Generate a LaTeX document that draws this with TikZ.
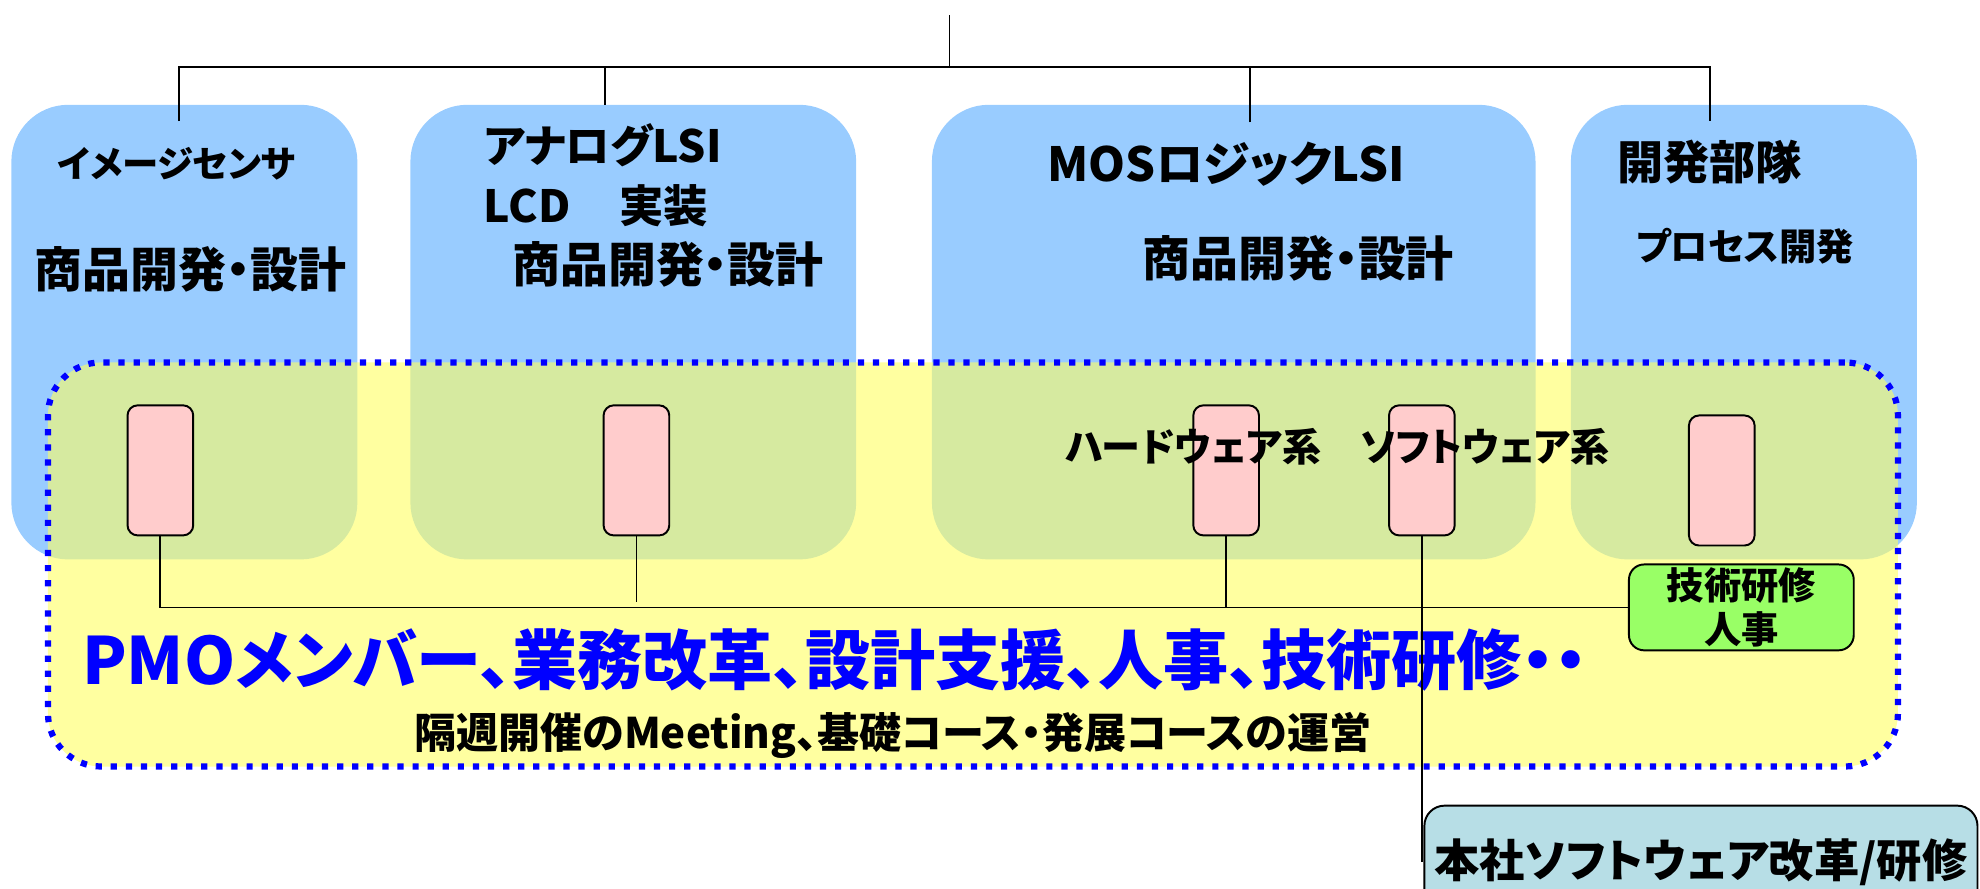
\documentclass[tikz,border=0pt]{standalone}
\usepackage{fontspec}
\newfontfamily\jp{Noto Sans CJK JP}[RawFeature=+palt]
\usetikzlibrary{positioning}
\definecolor{boxblue}{HTML}{99CCFF}
\definecolor{pmoyellow}{RGB}{255,255,97}
\definecolor{mempink}{HTML}{FFCCCC}
\definecolor{kgreen}{HTML}{99FF66}
\definecolor{hcyan}{HTML}{B7DEE6}
\tikzset{bu/.style={fill=boxblue, rounded corners=11.25mm, inner sep=0pt, minimum height=90mm},
  mem/.style={draw, fill=mempink, line width=1.1pt, rounded corners=2mm, minimum width=13mm, minimum height=25.75mm, inner sep=0pt},
  wire/.style={line width=1pt},
  lbl/.style={inner sep=0pt, align=center, font=\jp\bfseries\fontsize{#1}{#1}\selectfont},
  lbl/.default=25}

\begin{document}
\begin{tikzpicture}[x=0.25mm, y=-0.25mm]
  \useasboundingbox (0,0) rectangle (1568,704);
  \node[bu, minimum width=68.5mm]  (img) at (146,263) {};
  \node[bu, minimum width=88.25mm] (ana) at (501.5,263) {};
  \node[bu, minimum width=119.5mm] (mos) at (977,263) {};
  \node[bu, minimum width=68.5mm]  (dev) at (1381,263) {};

  \node[lbl=20.5] (img1) at (140,130) {イメージセンサ};
  \node[lbl=27] (img2) at (151,213) {商品開発・設計};
  \node[lbl, anchor=west] (ana1) at (383,115) {アナログLSI};
  \node[lbl, anchor=west] (ana2) at (383,163) {LCD\hspace{1.1em}実装};
  \node[lbl=27] (ana3) at (529,209) {商品開発・設計};
  \node[lbl=26.5] (mos1) at (971,130) {MOSロジックLSI};
  \node[lbl=27] (mos2) at (1028,205) {商品開発・設計};
  \node[lbl=26] (dev1) at (1354,128) {開発部隊};
  \node[lbl=21] (dev2) at (1382,195) {プロセス開発};

  \node[draw=blue, line width=3.5pt, dash pattern=on 3.5pt off 5pt, fill=pmoyellow, fill opacity=0.6,
        rounded corners=10.5mm, minimum width=366.25mm, minimum height=80mm] (pmo) at (770.5,447) {};

  \node[mem] (p1) at (127,372.5) {};
  \node[mem] (p2) at (504,372.5) {};
  \node[mem] (p3) at (971,372.5) {};
  \node[mem] (p4) at (1126,372.5) {};
  \node[mem] (p5) at (1363.5,380.5) {};

  \node[lbl=22] (hw) at (945,354) {ハードウェア系};
  \node[lbl=22] (sw) at (1176,354) {ソフトウェア系};

  \node[draw, fill=kgreen, line width=1.1pt, rounded corners=3mm, minimum width=44.5mm, minimum height=17mm,
        lbl=21] (kenshu) at (1379,481) {技術研修\\[4pt]人事};
  \node[draw, fill=hcyan, line width=1.1pt, rounded corners=4mm, minimum width=109.5mm, minimum height=22.5mm,
        lbl=25.5] (honsha) at (1347,683) {本社ソフトウェア改革/研修};

  \node[lbl=36.7, text=blue] (pmo1) at (661,523) {PMOメンバー、業務改革、設計支援、人事、技術研修・・};
  \node[lbl=23.7] (pmo2) at (707,582) {隔週開催のMeeting、基礎コース・発展コースの運営};

  \coordinate (root) at (752,12);
  \coordinate (bus) at (752,53);
  \coordinate (d1) at (142,96);
  \coordinate (d2) at (479,83);
  \coordinate (d3) at (990,97);
  \coordinate (d4) at (1354,96);
  \draw[wire] (root) -- (bus);
  \draw[wire] (d1) |- (bus) -| (d4);
  \draw[wire] (d2) -- (d2 |- bus);
  \draw[wire] (d3) -- (d3 |- bus);

  \draw[wire] (p1.south) |- (kenshu.west);
  \draw[wire] (p3.south) -- (p3.south |- kenshu.west);
  \draw[wire] (p2.south) -- ++(0,52);
  \draw[wire] (p4.south) -- (p4.south |- honsha.west);
\end{tikzpicture}
\end{document}
